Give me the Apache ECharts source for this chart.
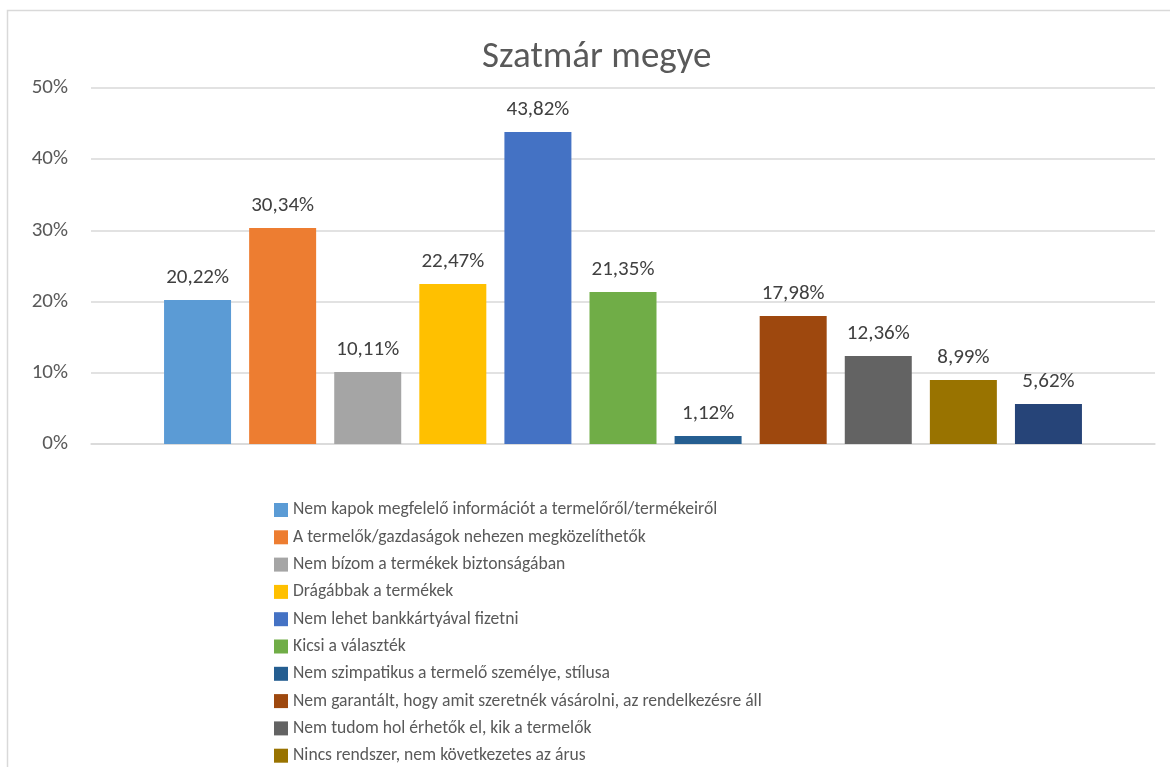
<!DOCTYPE html>
<html>
<head>
<meta charset="utf-8">
<script src="https://cdn.jsdelivr.net/npm/echarts@6/dist/echarts.min.js"></script>
<style>html,body{margin:0;padding:0;background:#fff;}#c{width:1170px;height:767px;}</style>
</head>
<body>
<div id="c"></div>
<script>
const categories = ['Szatmár megye'];
const seriesNames = [
  'Nem kapok megfelelő információt a termelőről/termékeiről',
  'A termelők/gazdaságok nehezen megközelíthetők',
  'Nem bízom a termékek biztonságában',
  'Drágábbak a termékek',
  'Nem lehet bankkártyával fizetni',
  'Kicsi a választék',
  'Nem szimpatikus a termelő személye, stílusa',
  'Nem garantált, hogy amit szeretnék vásárolni, az rendelkezésre áll',
  'Nem tudom hol érhetők el, kik a termelők',
  'Nincs rendszer, nem következetes az árus',
  'Egyéb'
];
const seriesValues = [20.22, 30.34, 10.11, 22.47, 43.82, 21.35, 1.12, 17.98, 12.36, 8.99, 5.62];
const seriesColors = ['#5B9BD5','#ED7D31','#A5A5A5','#FFC000','#4472C4','#70AD47','#255E91','#9E480E','#636363','#997300','#264478'];
const yTicks = [0, 10, 20, 30, 40, 50];

const FONT = "Carlito, 'Liberation Sans', sans-serif";
const chart = echarts.init(document.getElementById('c'), null, {renderer: 'canvas'});
chart.setOption({
  animation: false,
  backgroundColor: '#fff',
  title: {
    text: 'Szatmár megye',
    left: 477,
    top: 34,
    textStyle: {fontFamily: FONT, fontSize: 37, fontWeight: 'normal', color: '#595959'}
  },
  graphic: [{
    type: 'rect', silent: true, z: -10,
    shape: {x: 7.5, y: 10.5, width: 1300, height: 900},
    style: {fill: 'none', stroke: '#d9d9d9', lineWidth: 1.5}
  }],
  grid: {left: 91, right: 15, top: 88, bottom: 323, containLabel: false},
  xAxis: {
    type: 'category', data: categories,
    axisLine: {show: true, lineStyle: {color: '#d9d9d9', width: 1.5}},
    axisTick: {show: false}, axisLabel: {show: false}
  },
  yAxis: {
    type: 'value', min: yTicks[0], max: yTicks[yTicks.length - 1], interval: 10,
    axisLine: {show: false}, axisTick: {show: false},
    splitLine: {lineStyle: {color: '#d9d9d9', width: 1.5}},
    axisLabel: {formatter: '{value}%', fontFamily: FONT, fontSize: 21, color: '#595959', margin: 23}
  },
  legend: {
    orient: 'vertical', left: 269, top: 495, height: 420,
    itemWidth: 14, itemHeight: 14, itemGap: 7.3,
    icon: 'rect',
    textStyle: {fontFamily: FONT, fontSize: 17.6, color: '#595959', lineHeight: 20},
    data: seriesNames
  },
  series: seriesNames.map((n, i) => ({
    name: n, type: 'bar',
    data: [seriesValues[i]],
    barWidth: 67, barGap: '27%',
    itemStyle: {color: seriesColors[i]},
    label: {
      show: true, position: 'top', distance: 12,
      fontFamily: FONT, fontSize: 21, color: '#404040',
      formatter: p => p.value.toFixed(2).replace('.', ',') + '%'
    }
  }))
});
</script>
</body>
</html>
